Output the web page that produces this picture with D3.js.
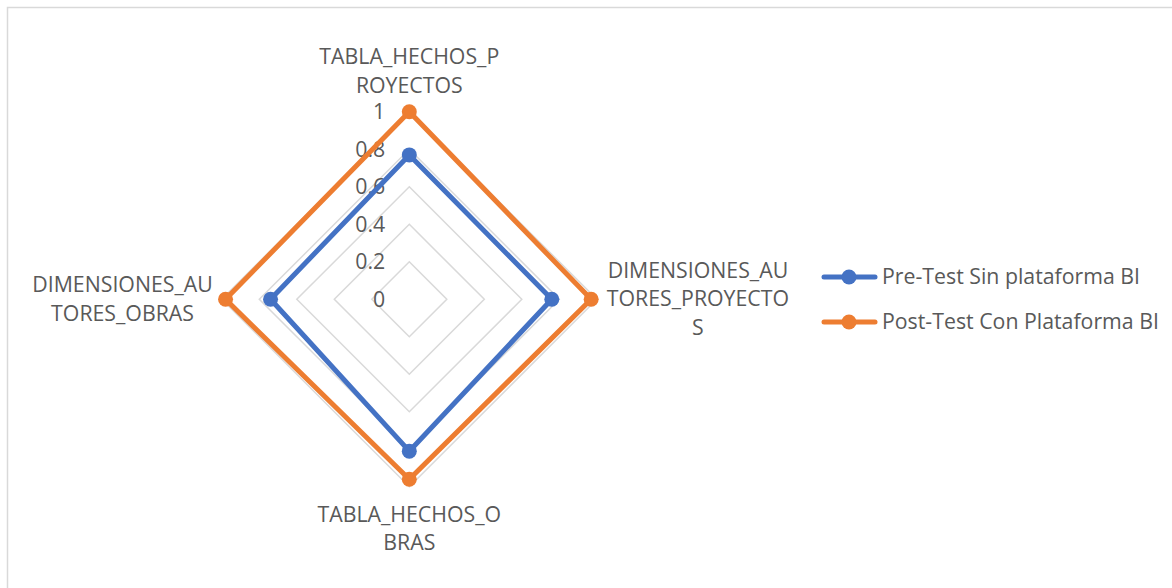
<!DOCTYPE html>
<html>
<head>
<meta charset="utf-8">
<script src="https://cdn.jsdelivr.net/npm/d3@7"></script>
<style>
  body { margin: 0; background: #fff; }
  text { font-family: "Open Sans", "Noto Sans", sans-serif; fill: #595959; }
</style>
</head>
<body>
<div id="radar"></div>
<script>
// data
var categories = ["TABLA_HECHOS_PROYECTOS", "DIMENSIONES_AUTORES_PROYECTOS", "TABLA_HECHOS_OBRAS", "DIMENSIONES_AUTORES_OBRAS"];
var seriesNames = ["Pre-Test Sin plataforma BI", "Post-Test Con Plataforma BI"];
var preValues = [0.77, 0.76, 0.81, 0.74];
var postValues = [1.0, 0.97, 0.96, 0.98];
var tickValues = [0, 0.2, 0.4, 0.6, 0.8, 1];
var colors = ["#4472C4", "#ED7D31"];

var width = 1172, height = 588;
var cx = 409.3, cy = 299.3, R = 187.5;
var fontSize = 21.3, lineH = 28.5;

var svg = d3.select("#radar")
    .append("svg")
    .attr("width", width)
    .attr("height", height);

// chart border (runs off the right/bottom edge in the reference)
svg.append("rect")
    .attr("x", 7.5).attr("y", 7.5)
    .attr("width", 1200).attr("height", 620)
    .attr("fill", "none")
    .attr("stroke", "#d9d9d9")
    .attr("stroke-width", 1.5);

var r = d3.scaleLinear().domain([0, 1]).range([0, R]);
var angle = d3.scalePoint().domain(d3.range(categories.length + 1)).range([0, 2 * Math.PI]);

function pt(i, v) {
    var a = angle(i);
    return [cx + r(v) * Math.sin(a), cy - r(v) * Math.cos(a)];
}

var g = svg.append("g");

// grid rings
var ring = d3.line();
tickValues.filter(function(t) { return t > 0; }).forEach(function(t) {
    g.append("path")
        .attr("d", ring(categories.map(function(c, i) { return pt(i, t); })) + "Z")
        .attr("fill", "none")
        .attr("stroke", "#d9d9d9")
        .attr("stroke-width", 1.5);
});

// tick labels
g.selectAll(".tick")
    .data(tickValues)
    .enter()
    .append("text")
    .attr("x", cx - 24)
    .attr("y", function(d) { return cy - r(d); })
    .attr("dy", "0.35em")
    .attr("text-anchor", "end")
    .style("font-size", fontSize + "px")
    .text(function(d) { return d3.format("~g")(d); });

// series
var allSeries = [preValues, postValues];
allSeries.forEach(function(vals, s) {
    var pts = vals.map(function(v, i) { return pt(i, v); });
    g.append("path")
        .attr("d", d3.line()(pts) + "Z")
        .attr("fill", "none")
        .attr("stroke", colors[s])
        .attr("stroke-width", 5)
        .attr("stroke-linejoin", "round");
    g.selectAll(".dot" + s)
        .data(pts)
        .enter()
        .append("circle")
        .attr("cx", function(d) { return d[0]; })
        .attr("cy", function(d) { return d[1]; })
        .attr("r", 7.5)
        .attr("fill", colors[s]);
});

// category labels, wrapped every 14 characters like the original
function chunks(s) {
    var out = [];
    for (var i = 0; i < s.length; i += 14) out.push(s.slice(i, i + 14));
    return out;
}

categories.forEach(function(c, i) {
    var lines = chunks(c);
    var t = g.append("text")
        .attr("text-anchor", "middle")
        .style("font-size", fontSize + "px");
    lines.forEach(function(l) {
        t.append("tspan").text(l);
    });
    var maxW = 0;
    t.selectAll("tspan").each(function() {
        maxW = Math.max(maxW, this.getComputedTextLength());
    });
    var n = lines.length;
    var p = pt(i, 1);
    var x, y0;
    if (i === 0) {            // top
        x = p[0];
        y0 = p[1] - 19 - (n - 1) * lineH;
    } else if (i === 2) {     // bottom
        x = p[0];
        y0 = p[1] + 35;
    } else if (i === 1) {     // right
        x = p[0] + 10 + maxW / 2;
        y0 = cy - (n - 1) * lineH / 2 + 7;
    } else {                  // left
        x = p[0] - 9 - maxW / 2;
        y0 = cy - (n - 1) * lineH / 2 + 7;
    }
    t.selectAll("tspan")
        .attr("x", x)
        .attr("y", function(d, k) { return y0 + k * lineH; });
});

// legend
var legend = svg.append("g");
var legendY = [277, 322];
seriesNames.forEach(function(name, s) {
    var row = legend.append("g").attr("transform", "translate(0," + legendY[s] + ")");
    row.append("line")
        .attr("x1", 824).attr("x2", 875)
        .attr("stroke", colors[s])
        .attr("stroke-width", 5)
        .attr("stroke-linecap", "round");
    row.append("circle")
        .attr("cx", 849).attr("r", 7.5)
        .attr("fill", colors[s]);
    row.append("text")
        .attr("x", 882)
        .attr("dy", "0.35em")
        .style("font-size", fontSize + "px")
        .text(name);
});
</script>
</body>
</html>
